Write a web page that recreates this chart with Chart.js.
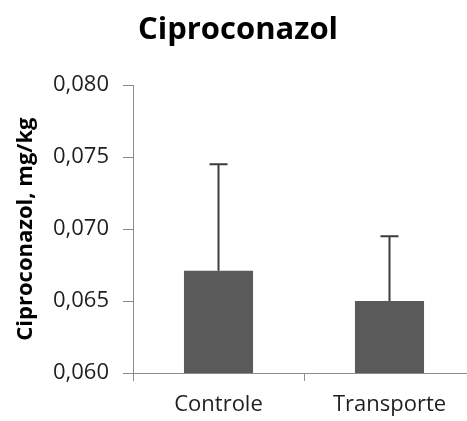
<!DOCTYPE html>
<html>
<head>
<meta charset="utf-8">
<script src="https://cdn.jsdelivr.net/npm/chart.js@4"></script>
<style>
  html, body { margin: 0; padding: 0; background: #ffffff; overflow: hidden; }
  #wrap { width: 476px; height: 421px; }
</style>
</head>
<body>
<div id="wrap"><canvas id="chart" width="476" height="421"></canvas></div>
<script>
// Mean residue per treatment and the upper standard deviation
const categories = ['Controle', 'Transporte'];
const means = [0.0671, 0.0650];
const errors = [0.0074, 0.0045];
const yTicks = [0.060, 0.065, 0.070, 0.075, 0.080];

const AXIS = '#8c8c8c';
const TEXT = '#1e1e1e';
const FONT = '"Open Sans", Lato, sans-serif';
const PAD = 1;
const AXIS_X = 133;
const X_AXIS_HEIGHT = 47;

// Upward-only error bars with a short cap
const errorBars = {
  id: 'errorBars',
  afterDatasetsDraw(chart) {
    const { ctx, scales: { x, y } } = chart;
    ctx.save();
    ctx.strokeStyle = '#3c3c3c';
    ctx.lineWidth = 2;
    means.forEach((m, i) => {
      const px = x.getPixelForValue(i);
      const y0 = y.getPixelForValue(m);
      const y1 = y.getPixelForValue(m + errors[i]);
      ctx.beginPath();
      ctx.moveTo(px, y0);
      ctx.lineTo(px, y1);
      ctx.moveTo(px - 9, y1);
      ctx.lineTo(px + 9, y1);
      ctx.stroke();
    });
    ctx.restore();
  }
};

new Chart(document.getElementById('chart'), {
  type: 'bar',
  data: {
    labels: categories,
    datasets: [{
      data: means,
      backgroundColor: '#5a5a5a',
      borderWidth: 0,
      categoryPercentage: 1,
      barPercentage: 0.404
    }]
  },
  options: {
    responsive: false,
    animation: false,
    layout: { padding: { left: PAD, right: PAD, top: 0, bottom: PAD } },
    plugins: {
      legend: { display: false },
      tooltip: { enabled: false },
      title: {
        display: true,
        text: 'Ciproconazol',
        color: '#000000',
        font: { family: FONT, size: 31, weight: 'bold' },
        padding: { top: 12, bottom: 36 }
      }
    },
    scales: {
      y: {
        min: 0.060,
        max: 0.080,
        afterBuildTicks(scale) { scale.ticks = yTicks.map(v => ({ value: v })); },
        afterFit(scale) { scale.width = AXIS_X - PAD; },
        ticks: {
          color: TEXT,
          font: { family: FONT, size: 22 },
          padding: 14,
          callback: v => v.toFixed(3).replace('.', ',')
        },
        grid: { drawOnChartArea: false, drawTicks: true, tickLength: 10, color: AXIS, lineWidth: 1 },
        border: { display: true, color: AXIS, width: 1 },
        title: {
          display: true,
          text: 'Ciproconazol, mg/kg',
          color: '#000000',
          font: { family: FONT, size: 22, weight: 'bold' },
          padding: { top: 12, bottom: 0 }
        }
      },
      x: {
        afterFit(scale) { scale.height = X_AXIS_HEIGHT; },
        ticks: {
          color: TEXT,
          font: { family: FONT, size: 22 },
          padding: 11
        },
        grid: { offset: true, drawOnChartArea: false, drawTicks: true, tickLength: 8, color: AXIS, lineWidth: 1 },
        border: { display: true, color: AXIS, width: 1 }
      }
    }
  },
  plugins: [errorBars]
});
</script>
</body>
</html>
